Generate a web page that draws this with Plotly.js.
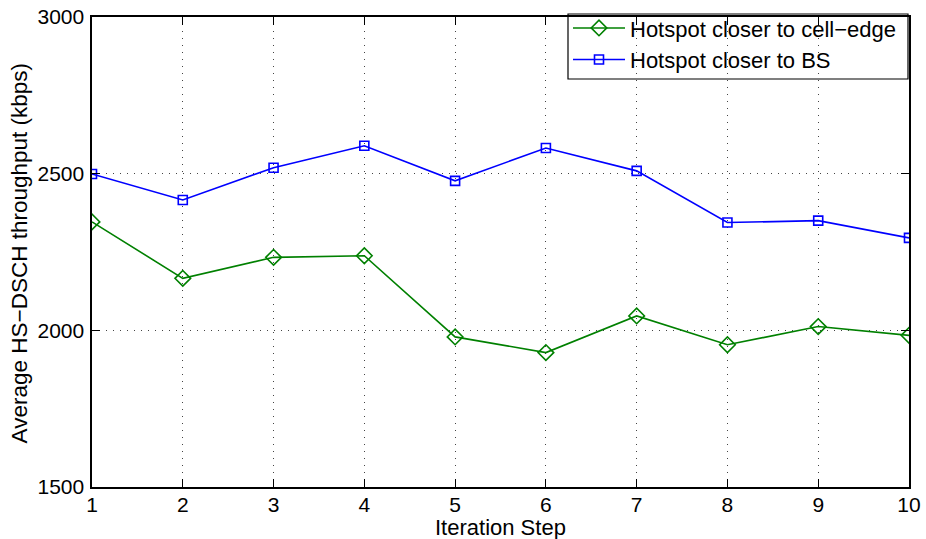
<!DOCTYPE html>
<html>
<head>
<meta charset="utf-8">
<script src="https://cdn.plot.ly/plotly-3.0.1.min.js"></script>
<style>html,body{margin:0;padding:0;background:#fff;} #chart{width:926px;height:539px;}</style>
</head>
<body>
<div id="chart"></div>
<script>
const steps = [1, 2, 3, 4, 5, 6, 7, 8, 9, 10];
const cellEdge = [2346, 2166, 2233, 2238, 1979, 1929, 2046, 1954, 2012, 1984];
const closerBS = [2499, 2416, 2519, 2589, 2477, 2582, 2509, 2344, 2350, 2295];
const seriesNames = ['Hotspot closer to cell\u2212edge', 'Hotspot closer to BS'];
const yTickVals = [1500, 2000, 2500, 3000];
const xTitle = 'Iteration Step';
const yTitle = 'Average HS\u2212DSCH throughput (kbps)';

const font = 'Liberation Sans, Arial, Helvetica, sans-serif';

const traces = [
  {
    x: steps, y: cellEdge, name: seriesNames[0], type: 'scatter', mode: 'lines+markers',
    line: {color: '#008000', width: 1.6},
    marker: {symbol: 'diamond-open', size: 12, color: '#008000', line: {width: 1.6, color: '#008000'}}
  },
  {
    x: steps, y: closerBS, name: seriesNames[1], type: 'scatter', mode: 'lines+markers',
    line: {color: '#0000ff', width: 1.6},
    marker: {symbol: 'square-open', size: 9, color: '#0000ff', line: {width: 1.6, color: '#0000ff'}}
  }
];

const axisCommon = {
  showline: true, linecolor: '#000', linewidth: 1.6, mirror: 'ticks',
  ticks: 'inside', ticklen: 8, tickcolor: '#000', tickwidth: 1,
  showgrid: true, gridcolor: '#444', gridwidth: 1, griddash: '1px,6px',
  zeroline: false, tickfont: {family: font, size: 21, color: '#000'},
  automargin: false
};

// plot area in pixels: left 92, right 909, top 17, bottom 487
const plotW = 817, plotH = 470;
const legL = 568, legR = 908, legT = 14, legB = 79;

const layout = {
  width: 926, height: 539,
  margin: {l: 92, r: 17, t: 17, b: 52, autoexpand: false},
  paper_bgcolor: '#fff', plot_bgcolor: '#fff',
  font: {family: font, color: '#000'},
  showlegend: true,
  legend: {
    x: (legL - 92) / plotW, xanchor: 'left', y: 1.021, yanchor: 'top',
    borderwidth: 0, bgcolor: 'rgba(0,0,0,0)',
    font: {family: font, size: 22, color: '#000'},
    tracegroupgap: 0, itemwidth: 52
  },
  shapes: [{
    type: 'rect', xref: 'paper', yref: 'paper', layer: 'below',
    x0: (legL - 92) / plotW, x1: (legR - 92) / plotW,
    y0: (487 - legB) / plotH, y1: (487 - legT) / plotH,
    line: {color: '#000', width: 1.2}, fillcolor: '#fff'
  }],
  annotations: [
    {text: xTitle, xref: 'paper', yref: 'paper', x: 0.5, y: 0, xanchor: 'center', yanchor: 'middle',
     yshift: -40, showarrow: false, font: {family: font, size: 22, color: '#000'}},
    {text: yTitle, xref: 'paper', yref: 'paper', x: 0, y: 0.496, xanchor: 'center', yanchor: 'middle',
     xshift: -72.5, textangle: -90, showarrow: false, font: {family: font, size: 22.5, color: '#000'}}
  ],
  xaxis: Object.assign({}, axisCommon, {
    range: [1, 10], tickvals: steps, ticktext: steps.map(String),
    ticklabelstandoff: -2
  }),
  yaxis: Object.assign({}, axisCommon, {
    range: [1500, 3000], tickvals: yTickVals,
    ticklabelstandoff: 2
  })
};

Plotly.newPlot('chart', traces, layout, {staticPlot: true, displayModeBar: false});
</script>
</body>
</html>
